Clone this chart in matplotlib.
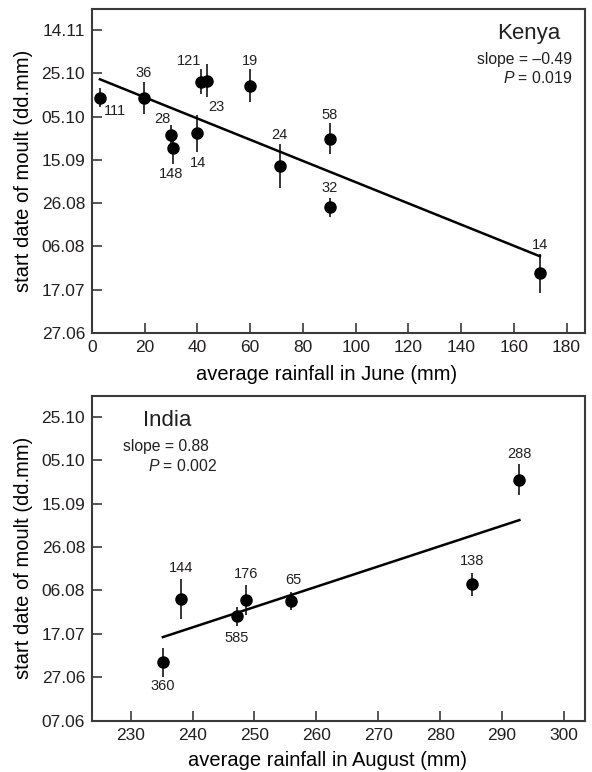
import matplotlib as mpl
mpl.use('Agg')
import matplotlib.pyplot as plt
import numpy as np

# y values are days after 27 June (27.06 = 0)
date_ticks = [-20, 0, 20, 40, 60, 80, 100, 120, 140]
date_labels = ['07.06', '27.06', '17.07', '06.08', '26.08', '15.09', '05.10', '25.10', '14.11']

# Kenya: rainfall in June vs start of moult
kenya_rain = [3.0, 19.7, 30.0, 30.9, 39.8, 41.5, 43.8, 59.9, 71.4, 90.1, 90.1, 169.9]
kenya_start = [108.8, 108.6, 91.7, 85.7, 92.2, 116.2, 116.6, 114.3, 77.2, 89.8, 58.0, 27.5]
kenya_err = [4.2, 7.5, 4.6, 7.4, 8.5, 5.8, 7.5, 7.5, 10.0, 7.0, 4.6, 9.0]
kenya_n = ['111', '36', '28', '148', '14', '121', '23', '19', '24', '58', '32', '14']
kenya_fit = (118.7, -0.49)   # intercept, slope

# India: rainfall in August vs start of moult
india_rain = [235.2, 238.1, 247.1, 248.7, 255.9, 285.2, 292.8]
india_start = [6.9, 36.2, 28.0, 35.4, 35.1, 42.8, 91.1]
india_err = [6.8, 9.2, 4.5, 6.9, 4.2, 5.4, 7.3]
india_n = ['360', '144', '585', '176', '65', '138', '288']
india_fit = (18.5, 0.936)    # value at first x, slope

# label offsets in pixels (dx, dy up)
kenya_off = [(15, -13), (0, 25), (-9, 16), (-2, -26), (1, -30), (-12, 21),
             (9, -26), (0, 25), (-1, 31), (0, 24), (0, 19), (0, 28)]
india_off = [(0, -24), (0, 31), (0, -22), (0, 26), (2, 21), (0, 23), (0, 26)]

ink = '#231f20'
plt.rcParams['font.family'] = ['Liberation Sans', 'DejaVu Sans']
plt.rcParams['mathtext.fontset'] = 'custom'
plt.rcParams['mathtext.rm'] = 'Liberation Sans'
plt.rcParams['mathtext.it'] = 'Liberation Sans:italic'
plt.rcParams['text.color'] = ink


def style(ax, xticks, yticks):
	for s in ax.spines.values():
		s.set_linewidth(1.5)
		s.set_color('#3a3a3a')
	ax.set_xticks(xticks)
	ax.set_yticks(yticks)
	ax.set_yticklabels([date_labels[date_ticks.index(t)] for t in yticks])
	ax.tick_params(direction='in', length=7, width=1.2, color='#3a3a3a',
				   labelsize=12.5, labelcolor=ink, pad=5)


def points(ax, x, y, err, names, offs):
	ax.errorbar(x, y, yerr=err, fmt='o', color='black', ms=8,
				elinewidth=1.1, capsize=0, zorder=3)
	for xi, yi, n, o in zip(x, y, names, offs):
		ax.annotate(n, (xi, yi), xytext=o, textcoords='offset pixels',
					ha='center', va='center', fontsize=10.5, color=ink)


fig = plt.figure(figsize=(5.92, 7.72), dpi=100)
ax1 = fig.add_axes([92 / 592, 1 - 333 / 772, 493 / 592, 324 / 772])
ax2 = fig.add_axes([92 / 592, 1 - 720.7 / 772, 493 / 592, 325 / 772])

# Kenya
points(ax1, kenya_rain, kenya_start, kenya_err, kenya_n, kenya_off)
fx = np.array([kenya_rain[0], kenya_rain[-1]])
ax1.plot(fx, kenya_fit[0] + kenya_fit[1] * fx, color='black', lw=1.8, zorder=2)
ax1.set_xlim(0, 187)
ax1.set_ylim(0, 149.7)
style(ax1, range(0, 181, 20), date_ticks[1:])
ax1.set_xlabel('average rainfall in June (mm)', fontsize=14.5, va='center')
ax1.xaxis.set_label_coords((327 - 92) / 493, (333 - 375) / 324)
ax1.set_ylabel('start date of moult (dd.mm)', fontsize=14.5, va='center')
ax1.yaxis.set_label_coords((24 - 92) / 493, 0.5)
ax1.text(0.951, 0.925, 'Kenya', transform=ax1.transAxes, ha='right', va='center', fontsize=16)
ax1.text(0.974, 0.843, 'slope = \u20130.49', transform=ax1.transAxes, ha='right', va='center', fontsize=11.3)
ax1.text(0.974, 0.787, '$P$ = 0.019', transform=ax1.transAxes, ha='right', va='center', fontsize=11.3)

# India
points(ax2, india_rain, india_start, india_err, india_n, india_off)
fx = np.array([india_rain[0], india_rain[-1]])
ax2.plot(fx, india_fit[0] + india_fit[1] * (fx - fx[0]), color='black', lw=1.8, zorder=2)
ax2.set_xlim(223.75, 303.4)
ax2.set_ylim(-20, 129.7)
style(ax2, range(230, 301, 10), date_ticks[:-1])
ax2.set_xlabel('average rainfall in August (mm)', fontsize=14.5, va='center')
ax2.xaxis.set_label_coords((327 - 92) / 493, (720.7 - 760) / 325)
ax2.set_ylabel('start date of moult (dd.mm)', fontsize=14.5, va='center')
ax2.yaxis.set_label_coords((24 - 92) / 493, 0.5)
ax2.text((166.7 - 92) / 493, (720.7 - 420) / 325, 'India', transform=ax2.transAxes, ha='center', va='center', fontsize=16)
ax2.text((122.7 - 92) / 493, (720.7 - 446) / 325, 'slope = 0.88', transform=ax2.transAxes, ha='left', va='center', fontsize=11.3)
ax2.text((217.3 - 92) / 493, (720.7 - 466) / 325, '$P$ = 0.002', transform=ax2.transAxes, ha='right', va='center', fontsize=11.3)

fig.savefig('out.png', dpi=100)
